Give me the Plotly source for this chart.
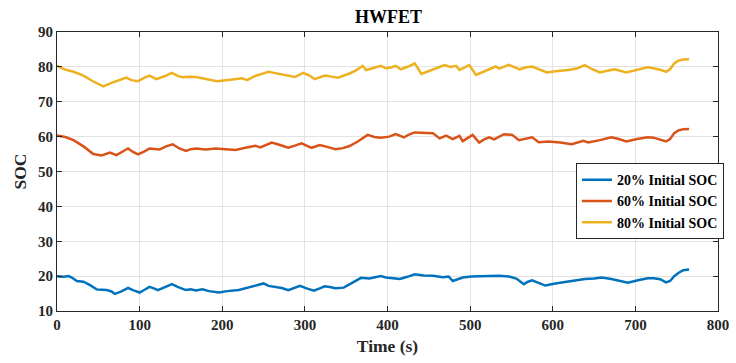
import plotly.graph_objects as go

# Time stamps (s) and SOC (%) samples for each initial-SOC case
t_20 = [0, 8, 14, 18, 24, 32, 40, 48, 54, 60, 66, 70, 78, 86, 92, 100, 106, 112, 118, 122,
        130, 139, 146, 156, 162, 168, 176, 184, 196, 206, 220, 230, 240, 250, 256, 264, 272,
        280, 288, 294, 302, 311, 318, 324, 330, 337, 347, 358, 368, 378, 386, 392, 398, 406,
        415, 424, 433, 444, 455, 467, 474, 479, 486, 491, 501, 512, 524, 535, 547, 556, 565,
        570, 575, 583, 591, 603, 615, 627, 639, 650, 659, 671, 681, 691, 703, 715, 722, 730,
        737, 742, 747, 752, 758, 765]
soc_20 = [20.0, 19.8, 20.0, 19.6, 18.6, 18.4, 17.4, 16.2, 16.1, 16.0, 15.6, 14.9, 15.6, 16.6,
          16.0, 15.3, 16.1, 16.9, 16.4, 16.0, 16.8, 17.7, 16.9, 16.0, 16.2, 15.9, 16.2, 15.7,
          15.3, 15.7, 16.0, 16.6, 17.2, 17.9, 17.2, 17.0, 16.6, 16.0, 16.7, 17.2, 16.5, 15.8,
          16.5, 17.1, 16.9, 16.5, 16.7, 18.2, 19.5, 19.3, 19.8, 20.0, 19.6, 19.5, 19.2, 19.8,
          20.5, 20.2, 20.1, 19.7, 19.9, 18.6, 19.3, 19.6, 19.9, 20.0, 20.2, 20.1, 19.9, 19.3,
          17.7, 18.4, 18.8, 18.0, 17.3, 17.9, 18.4, 18.7, 19.2, 19.3, 19.6, 19.2, 18.7, 18.1,
          18.8, 19.4, 19.4, 19.1, 18.2, 18.6, 20.0, 20.9, 21.7, 21.9]

t_60 = [0, 10, 20, 32, 44, 54, 64, 72, 80, 86, 92, 98, 106, 112, 124, 132, 140, 148, 156,
        162, 168, 180, 192, 204, 216, 228, 240, 246, 252, 260, 270, 280, 288, 296, 308, 318,
        328, 337, 346, 354, 364, 376, 384, 392, 402, 410, 420, 426, 433, 444, 455, 463, 471,
        479, 487, 491, 503, 511, 517, 523, 529, 541, 551, 559, 567, 575, 583, 595, 609, 623,
        637, 643, 657, 671, 680, 689, 702, 715, 722, 730, 737, 742, 747, 752, 758, 765]
soc_60 = [60.3, 59.9, 59.0, 57.2, 55.0, 54.6, 55.4, 54.7, 55.8, 56.6, 55.6, 54.9, 55.8, 56.6,
          56.3, 57.2, 57.8, 56.6, 55.9, 56.4, 56.6, 56.3, 56.6, 56.4, 56.2, 56.8, 57.4, 56.9,
          57.6, 58.3, 57.6, 56.8, 57.4, 58.1, 56.8, 57.6, 57.0, 56.4, 56.7, 57.3, 58.6, 60.5,
          59.9, 59.7, 60.0, 60.7, 59.8, 60.6, 61.2, 61.0, 61.0, 59.5, 60.3, 59.3, 60.2, 58.7,
          60.5, 58.3, 59.2, 59.8, 59.2, 60.7, 60.5, 59.0, 59.5, 59.8, 58.4, 58.6, 58.3, 57.8,
          58.8, 58.3, 59.0, 59.8, 59.3, 58.6, 59.3, 59.8, 59.7, 59.0, 58.6, 59.3, 61.0, 61.8,
          62.1, 62.2]

t_80 = [0, 10, 20, 32, 44, 56, 66, 76, 84, 90, 98, 106, 112, 120, 130, 139, 146, 152, 160,
        168, 180, 194, 210, 224, 230, 240, 248, 256, 264, 276, 288, 298, 305, 312, 324, 332,
        340, 354, 362, 370, 374, 382, 392, 398, 404, 410, 416, 425, 433, 441, 455, 469, 476,
        483, 487, 499, 507, 519, 531, 535, 547, 560, 567, 575, 584, 593, 606, 619, 630, 639,
        647, 657, 666, 675, 689, 702, 715, 722, 730, 737, 742, 747, 752, 758, 765]
soc_80 = [80.3, 79.2, 78.6, 77.5, 75.8, 74.4, 75.4, 76.2, 76.9, 76.2, 75.9, 76.9, 77.5, 76.5,
          77.3, 78.3, 77.4, 77.0, 77.2, 77.1, 76.6, 75.9, 76.3, 76.7, 76.2, 77.4, 78.0, 78.6,
          78.2, 77.6, 77.1, 78.3, 77.6, 76.5, 77.5, 77.2, 76.9, 78.1, 79.0, 80.3, 79.1, 79.6,
          80.3, 79.6, 79.8, 80.3, 79.3, 80.1, 81.0, 78.0, 79.2, 80.5, 80.0, 80.3, 79.1, 80.5,
          77.7, 78.9, 80.1, 79.5, 80.6, 79.3, 79.8, 80.1, 79.2, 78.4, 78.8, 79.1, 79.6, 80.5,
          79.4, 78.4, 78.9, 79.3, 78.4, 79.1, 79.9, 79.6, 79.2, 78.6, 79.3, 81.0, 81.8, 82.1,
          82.2]

series = [
    ("20% Initial SOC", t_20, soc_20, "#0072BD"),
    ("60% Initial SOC", t_60, soc_60, "#D95319"),
    ("80% Initial SOC", t_80, soc_80, "#EDB120"),
]

x_ticks = [0, 100, 200, 300, 400, 500, 600, 700, 800]
y_ticks = [10, 20, 30, 40, 50, 60, 70, 80, 90]

serif = "Liberation Serif, Times New Roman, serif"

fig = go.Figure()
for name, t, soc, color in series:
    fig.add_trace(go.Scatter(x=t, y=soc, mode="lines", name=f"<b>{name}</b>",
                             line=dict(color=color, width=2.5)))


def axis_style():
    return dict(
        showline=True, linecolor="#262626", linewidth=1, mirror="ticks",
        ticks="inside", ticklen=5, tickcolor="#262626", tickwidth=1,
        showgrid=True, gridcolor="#e3e3e3", gridwidth=1, zeroline=False,
        automargin=False,
        tickfont=dict(family=serif, size=15, color="#262626"),
    )


fig.update_layout(
    width=736, height=363,
    margin=dict(l=57, r=15, t=32, b=52),
    font=dict(family=serif, size=15, color="#262626"),
    paper_bgcolor="white", plot_bgcolor="white",
    title=dict(text="<b>HWFET</b>", x=0.528, xanchor="center", y=0.953, yanchor="middle",
               font=dict(family=serif, size=18, color="black")),
    xaxis=dict(range=[0, 800], tickvals=x_ticks,
               ticktext=[f"<b>{v}</b>" for v in x_ticks],
               title=dict(text="<b>Time (s)</b>", standoff=7,
                          font=dict(family=serif, size=17.5, color="#262626")),
               **axis_style()),
    yaxis=dict(range=[10, 90], tickvals=y_ticks,
               ticktext=[f"<b>{v}</b>" for v in y_ticks],
               title=dict(text="<b>SOC</b>", standoff=6,
                          font=dict(family=serif, size=17.5, color="#262626")),
               **axis_style()),
    legend=dict(x=1.009, xanchor="right", y=0.53, yanchor="top",
                bgcolor="white", bordercolor="#262626", borderwidth=1,
                font=dict(family=serif, size=14, color="black"),
                tracegroupgap=0, itemwidth=30),
    showlegend=True,
)

fig.write_html("out.html")
